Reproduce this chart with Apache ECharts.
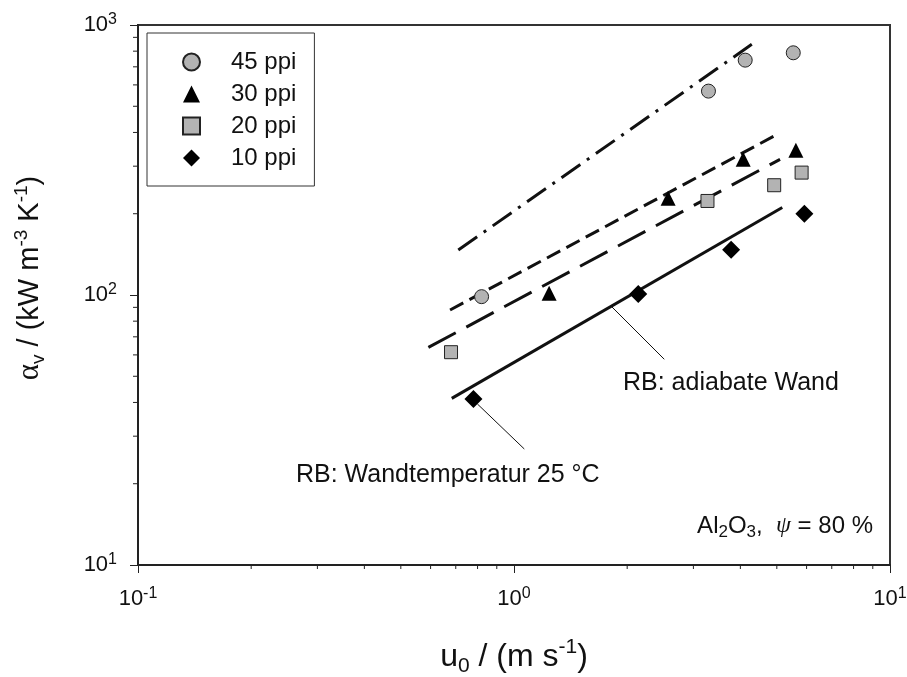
<!DOCTYPE html>
<html><head><meta charset="utf-8">
<script src="https://cdn.jsdelivr.net/npm/echarts@6/dist/echarts.min.js"></script>
<style>html,body{margin:0;padding:0;background:#fff}#c{width:907px;height:677px}</style>
</head><body><div id="c"></div>
<script>
// measured data (u0 in m/s, alpha_v in kW m-3 K-1)
const ppi45X = [0.82, 3.29, 4.12, 5.53];
const ppi45Y = [98.6, 569, 741, 789];
const ppi30X = [1.24, 2.57, 4.07, 5.62];
const ppi30Y = [101.5, 228, 318, 344];
const ppi20X = [0.68, 3.27, 4.92, 5.82];
const ppi20Y = [61.4, 223, 255, 284];
const ppi10X = [0.78, 2.14, 3.78, 5.92];
const ppi10Y = [41.2, 100.9, 147, 200];
// model lines (start, end)
const fit45X = [0.711, 4.29]; const fit45Y = [146.8, 848];
const fit30X = [0.676, 4.92]; const fit30Y = [88, 388];
const fit20X = [0.592, 5.10]; const fit20Y = [64.0, 318];
const fit10X = [0.683, 5.17]; const fit10Y = [41.4, 211];
// annotation leader lines
const leader1X = [1.819, 2.51]; const leader1Y = [90.5, 57.8];
const leader2X = [0.799, 1.065]; const leader2Y = [39.5, 26.9];
// minor tick values
const xMinor = [0.2,0.3,0.4,0.5,0.6,0.7,0.8,0.9,2,3,4,5,6,7,8,9];
const yMinor = [20,30,40,50,60,70,80,90,200,300,400,500,600,700,800,900];
const seriesNames = ['45 ppi','30 ppi','20 ppi','10 ppi'];

const FONT = "'Liberation Sans', Arial, sans-serif";
const SERIF = "'Liberation Serif', 'DejaVu Serif', serif";
const zip = (a, b) => a.map((v, i) => [v, b[i]]);
const INK = '#111';

function lineSeries(xs, ys, type, width) {
  return {
    type: 'line', data: zip(xs, ys), symbol: 'none', silent: true, z: 3,
    lineStyle: { color: INK, width: width || 3, type: type, cap: 'butt' }
  };
}
function tickSeries(data, horiz, len) {
  return {
    type: 'custom', silent: true, clip: false, z: 10,
    data: data,
    renderItem: function (params, api) {
      const p = api.coord([api.value(0), api.value(1)]);
      return {
        type: 'line',
        shape: horiz ? { x1: p[0] - len, y1: p[1], x2: p[0], y2: p[1] }
                     : { x1: p[0], y1: p[1], x2: p[0], y2: p[1] + len },
        style: { stroke: '#222', lineWidth: 1 }
      };
    }
  };
}
const tickRich = {
  b: { fontSize: 22, fontFamily: FONT, color: INK, lineHeight: 26 },
  s: { fontSize: 16, fontFamily: FONT, color: INK, lineHeight: 16, verticalAlign: 'top' }
};
const logFmt = v => '{b|10}{s|' + Math.round(Math.log10(v)) + '}';

const chart = echarts.init(document.getElementById('c'), null, { renderer: 'canvas' });
chart.setOption({
  animation: false,
  backgroundColor: '#fff',
  grid: { left: 138, right: 17, top: 25, bottom: 112, show: true, borderColor: '#333', borderWidth: 2,
          backgroundColor: 'transparent', containLabel: false, outerBoundsMode: 'none' },
  xAxis: {
    type: 'log', logBase: 10, min: 0.1, max: 10,
    axisLine: { show: true, lineStyle: { color: '#222', width: 2 } },
    axisTick: { show: true, length: 8, inside: false, lineStyle: { color: '#222', width: 1 } },
    splitLine: { show: false }, minorTick: { show: false },
    axisLabel: { margin: 21, fontSize: 22, fontFamily: FONT, color: INK, formatter: logFmt, rich: tickRich },
    name: '{t|u}{sub|0}{t| / (m s}{sup|-1}{t|)}',
    nameLocation: 'middle', nameGap: 72,
    nameTextStyle: {
      fontSize: 32, fontFamily: FONT, color: INK,
      rich: {
        t: { fontSize: 32, fontFamily: FONT, color: INK, lineHeight: 40 },
        sub: { fontSize: 21, fontFamily: FONT, color: INK, lineHeight: 21, verticalAlign: 'bottom' },
        sup: { fontSize: 21, fontFamily: FONT, color: INK, lineHeight: 21, verticalAlign: 'top' }
      }
    }
  },
  yAxis: {
    type: 'log', logBase: 10, min: 10, max: 1000,
    axisLine: { show: true, lineStyle: { color: '#222', width: 2 } },
    axisTick: { show: true, length: 8, inside: false, lineStyle: { color: '#222', width: 1 } },
    splitLine: { show: false }, minorTick: { show: false },
    axisLabel: { margin: 21, fontSize: 22, fontFamily: FONT, color: INK, formatter: logFmt, rich: tickRich },
    name: '{a|α}{sub|v}{t| / (kW m}{sup|-3}{t| K}{sup|-1}{t|)}',
    nameLocation: 'middle', nameGap: 90, nameRotate: 90,
    nameTextStyle: {
      fontSize: 29, fontFamily: FONT, color: INK, padding: [0, 0, 0, 34],
      rich: {
        a: { fontSize: 31, fontFamily: SERIF, color: INK, lineHeight: 36 },
        t: { fontSize: 29, fontFamily: FONT, color: INK, lineHeight: 36 },
        sub: { fontSize: 19, fontFamily: FONT, color: INK, lineHeight: 19, verticalAlign: 'bottom' },
        sup: { fontSize: 19, fontFamily: FONT, color: INK, lineHeight: 19, verticalAlign: 'top' }
      }
    }
  },
  legend: {
    data: seriesNames, orient: 'vertical', left: 147, top: 33,
    backgroundColor: '#fff', borderColor: '#333', borderWidth: 1,
    padding: [17, 18, 16, 35], itemWidth: 17, itemHeight: 17, itemGap: 8,
    textStyle: { fontSize: 24, fontFamily: FONT, color: INK, padding: [0, 0, 0, 26] },
    selectedMode: false
  },
  series: [
    lineSeries(fit45X, fit45Y, [23, 8, 3, 8]),
    lineSeries(fit30X, fit30Y, [15, 7]),
    lineSeries(fit20X, fit20Y, [31, 12]),
    lineSeries(fit10X, fit10Y, 'solid'),
    Object.assign(lineSeries(leader1X, leader1Y, 'solid', 1), { lineStyle: { color: INK, width: 1 } }),
    Object.assign(lineSeries(leader2X, leader2Y, 'solid', 1), { lineStyle: { color: INK, width: 1 } }),
    { name: '45 ppi', type: 'scatter', data: zip(ppi45X, ppi45Y), symbol: 'circle', symbolSize: 14, z: 5,
      itemStyle: { color: '#b3b3b3', borderColor: '#222', borderWidth: 1, opacity: 1 } },
    { name: '30 ppi', type: 'scatter', data: zip(ppi30X, ppi30Y), symbol: 'triangle', symbolSize: 15, z: 5,
      itemStyle: { color: '#000', opacity: 1 } },
    { name: '20 ppi', type: 'scatter', data: zip(ppi20X, ppi20Y), symbol: 'rect', symbolSize: 13, z: 5,
      itemStyle: { color: '#b3b3b3', borderColor: '#222', borderWidth: 1, opacity: 1 } },
    { name: '10 ppi', type: 'scatter', data: zip(ppi10X, ppi10Y), symbol: 'diamond', symbolSize: 18, z: 5,
      itemStyle: { color: '#000', opacity: 1 } },
    tickSeries(xMinor.map(v => [v, 10]), false, 4),
    tickSeries(yMinor.map(v => [0.1, v]), true, 5)
  ],
  graphic: [
    { type: 'text', left: 623, top: 371, style: { text: 'RB: adiabate Wand', font: "25px 'Liberation Sans', Arial", fill: INK } },
    { type: 'text', left: 296, top: 463, style: { text: 'RB: Wandtemperatur 25 °C', font: "25px 'Liberation Sans', Arial", fill: INK } },
    { type: 'text', right: 34, top: 514, style: {
        text: '{t|Al}{s|2}{t|O}{s|3}{t|,  }{i|ψ}{t| = 80 %}',
        rich: {
          t: { fontSize: 24, fontFamily: FONT, fill: INK, lineHeight: 30 },
          s: { fontSize: 17, fontFamily: FONT, fill: INK, lineHeight: 17, verticalAlign: 'bottom' },
          i: { fontSize: 24, fontFamily: SERIF, fontStyle: 'italic', fill: INK, lineHeight: 30 }
        } } }
  ]
});
</script>
</body></html>
